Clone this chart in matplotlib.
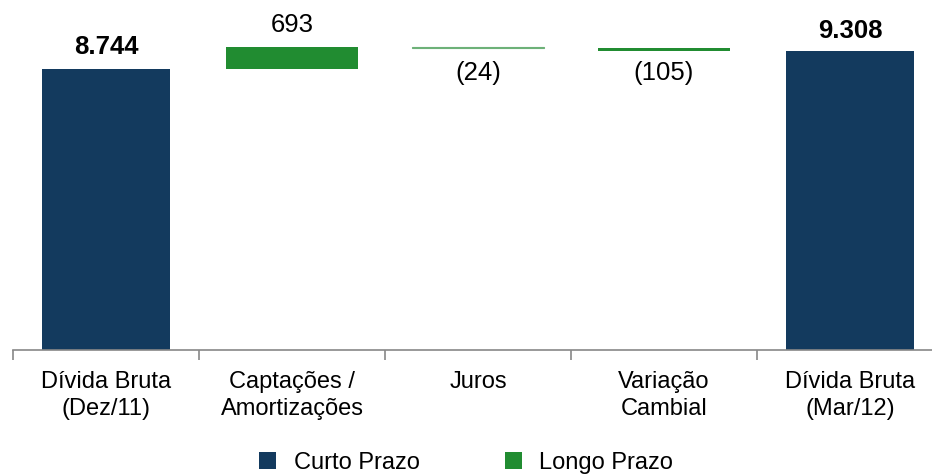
import matplotlib
matplotlib.use("Agg")
import matplotlib.pyplot as plt
from matplotlib.patches import Patch

plt.rcParams['font.family'] = ['Liberation Sans', 'DejaVu Sans']

categories = ["Dívida Bruta\n(Dez/11)", "Captações /\nAmortizações", "Juros", "Variação\nCambial", "Dívida Bruta\n(Mar/12)"]
start_value = 8744
changes = [693, -24, -105]
end_value = 9308
labels = ["8.744", "693", "(24)", "(105)", "9.308"]
legend_labels = ["Curto Prazo", "Longo Prazo"]

navy = "#133a5e"
green = "#218c31"
light_green = "#6db178"

fig = plt.figure(figsize=(9.32, 4.74), dpi=100)
ax = fig.add_axes([13/932, 124/474, 930/932, 350/474])

# compute waterfall
bottoms, heights, colors = [], [], []
bottoms.append(0); heights.append(start_value); colors.append(navy)
level = start_value
change_colors = [green, light_green, green]
for c, col in zip(changes, change_colors):
    if c >= 0:
        bottoms.append(level); heights.append(c)
    else:
        bottoms.append(level + c); heights.append(-c)
    colors.append(col)
    level += c
bottoms.append(0); heights.append(end_value); colors.append(navy)

x = list(range(len(categories)))
widths = [0.69, 0.715, 0.715, 0.715, 0.69]
lws = [0, 0, 0.8, 0, 0]
ax.bar(x, heights, bottom=bottoms, width=widths, color=colors, edgecolor=colors, linewidth=lws)

ax.set_ylim(0, 10900)
ax.set_xlim(-0.5, 4.5)

def pts(px):
    return px * 72 / 100

# labels
tops = [b + h for b, h in zip(bottoms, heights)]
ax.annotate(labels[0], (0, tops[0]), xytext=(0, pts(22)), textcoords="offset points",
            ha="center", va="center", fontsize=18.5, fontweight="bold")
ax.annotate(labels[1], (1, tops[1]), xytext=(0, pts(22)), textcoords="offset points",
            ha="center", va="center", fontsize=18.5)
ax.annotate(labels[2], (2, tops[1]), xytext=(0, -pts(26)), textcoords="offset points",
            ha="center", va="center", fontsize=18.5)
ax.annotate(labels[3], (3, tops[1]), xytext=(0, -pts(26)), textcoords="offset points",
            ha="center", va="center", fontsize=18.5)
ax.annotate(labels[4], (4, tops[4]), xytext=(0, pts(20)), textcoords="offset points",
            ha="center", va="center", fontsize=18.5, fontweight="bold")

# axes styling
for s in ["top", "right", "left"]:
    ax.spines[s].set_visible(False)
ax.spines["bottom"].set_color("#888888")
ax.spines["bottom"].set_linewidth(1.2)
ax.set_yticks([])
ax.set_xticks([i - 0.5 for i in range(len(categories))], minor=False)
ax.set_xticklabels([])
ax.tick_params(axis="x", which="major", length=7, color="#888888", width=1.2, direction="out")
ax.set_xticks(x, minor=True)
ax.set_xticklabels(categories, minor=True, fontsize=17, linespacing=1.3)
ax.tick_params(axis="x", which="minor", length=0, pad=15)

handles = [Patch(facecolor=navy, edgecolor="none"), Patch(facecolor=green, edgecolor="none")]
fig.legend(handles, legend_labels, loc="center", bbox_to_anchor=(466/932, 1 - 463/474),
           ncol=2, frameon=False, fontsize=17, handlelength=0.72, handleheight=0.72,
           handletextpad=0.75, columnspacing=3.6, borderpad=0)

fig.savefig("out.png", dpi=100)
